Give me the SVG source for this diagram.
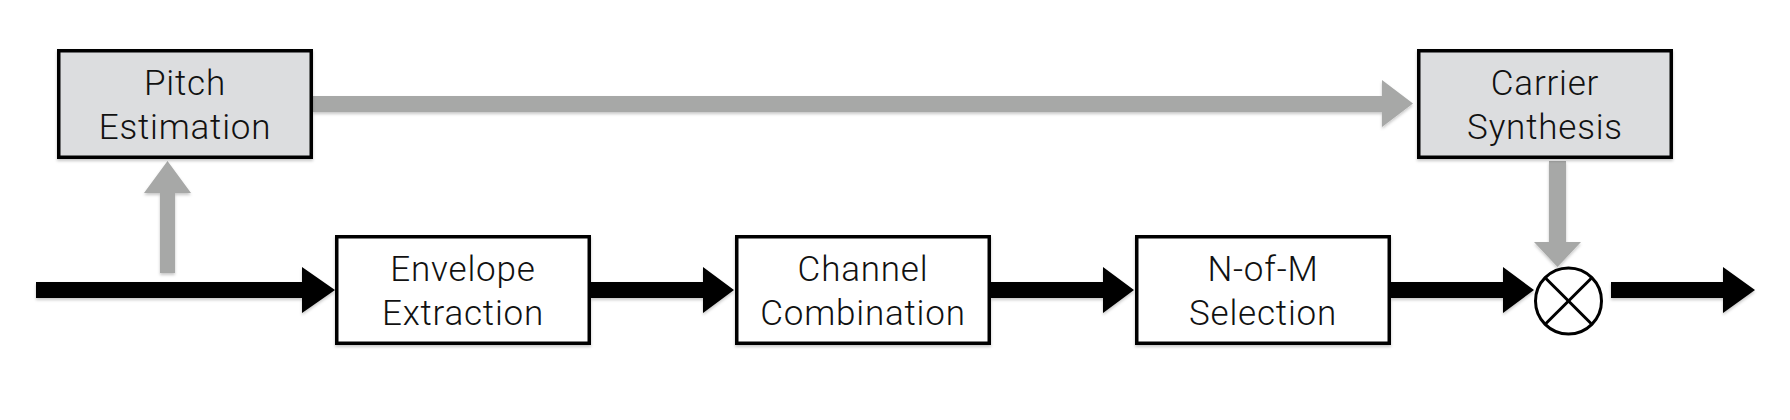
<svg xmlns="http://www.w3.org/2000/svg" width="1790" height="420" viewBox="0 0 1790 420">
<defs>
<filter id="sh" x="-10%" y="-30%" width="120%" height="170%">
<feDropShadow dx="0" dy="2" stdDeviation="1.5" flood-color="#000" flood-opacity="0.22"/>
</filter>
</defs>
<style>
.box{stroke:#000;stroke-width:3.5;filter:url(#sh)}
.gbox{fill:#dcdddf}
.wbox{fill:#ffffff}
.lbl{font-family:Roboto,"Liberation Sans",sans-serif;font-weight:300;font-size:35px;letter-spacing:0.8px;fill:#111;text-anchor:middle}
.blk{fill:#000;filter:url(#sh)}
.gry{fill:#a7a8a7;filter:url(#sh)}
</style>
<rect width="1790" height="420" fill="#fff"/>
<g id="connectors">
<polygon class="gry" points="313,96 1382,96 1382,80 1413,103.5 1382,127 1382,112 313,112"/>
<polygon class="gry" points="160,273 160,193 144,193 167.5,161 191,193 175,193 175,273"/>
<polygon class="gry" points="1549,161 1566,161 1566,242 1581,242 1557.5,267 1534,242 1549,242"/>
<polygon class="blk" points="36,282 302,282 302,267 335,290 302,313 302,298 36,298"/>
<polygon class="blk" points="591,282 703,282 703,267 734,290 703,313 703,298 591,298"/>
<polygon class="blk" points="991,282 1103,282 1103,267 1134,290 1103,313 1103,298 991,298"/>
<polygon class="blk" points="1391,282 1503,282 1503,267 1534,290 1503,313 1503,298 1391,298"/>
<polygon class="blk" points="1611,282 1723,282 1723,267 1755,290 1723,313 1723,298 1611,298"/>
</g>
<g id="pitch">
<rect class="box gbox" x="58.75" y="50.75" width="252.5" height="106.5"/>
<text class="lbl" x="185" y="95">Pitch</text>
<text class="lbl" x="185" y="139">Estimation</text>
</g>
<g id="carrier">
<rect class="box gbox" x="1418.75" y="50.75" width="252.5" height="106.5"/>
<text class="lbl" x="1545" y="95">Carrier</text>
<text class="lbl" x="1545" y="139">Synthesis</text>
</g>
<g id="envelope">
<rect class="box wbox" x="336.75" y="236.75" width="252.5" height="106.5"/>
<text class="lbl" x="463" y="281">Envelope</text>
<text class="lbl" x="463" y="325">Extraction</text>
</g>
<g id="channel">
<rect class="box wbox" x="736.75" y="236.75" width="252.5" height="106.5"/>
<text class="lbl" x="863" y="281">Channel</text>
<text class="lbl" x="863" y="325">Combination</text>
</g>
<g id="nofm">
<rect class="box wbox" x="1136.75" y="236.75" width="252.5" height="106.5"/>
<text class="lbl" x="1263" y="281">N-of-M</text>
<text class="lbl" x="1263" y="325">Selection</text>
</g>
<g id="multiplier">
<circle cx="1568.5" cy="301" r="33" fill="#fff" stroke="#000" stroke-width="3"/>
<line x1="1545.2" y1="277.7" x2="1591.8" y2="324.3" stroke="#000" stroke-width="3"/>
<line x1="1591.8" y1="277.7" x2="1545.2" y2="324.3" stroke="#000" stroke-width="3"/>
</g>
</svg>
